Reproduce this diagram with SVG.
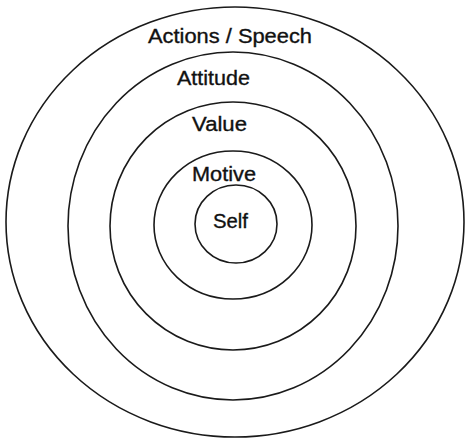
<svg xmlns="http://www.w3.org/2000/svg" width="466" height="439" viewBox="0 0 466 439">
  <style>
    .ring { fill: none; stroke: #1a1a1a; stroke-width: 1.6; }
    .lbl { font-family: "Liberation Sans", Arial, sans-serif; font-size: 20.5px; fill: #111; stroke: #111; stroke-width: 0.35; }
  </style>
  <rect width="466" height="439" fill="#ffffff"/>
  <g id="actions-speech">
    <ellipse class="ring" cx="235" cy="222" rx="229" ry="215"/>
    <text class="lbl" x="148" y="43" textLength="164" lengthAdjust="spacingAndGlyphs">Actions / Speech</text>
  </g>
  <g id="attitude">
    <ellipse class="ring" cx="233" cy="226" rx="165" ry="174"/>
    <text class="lbl" x="177" y="85" textLength="73" lengthAdjust="spacingAndGlyphs">Attitude</text>
  </g>
  <g id="value">
    <ellipse class="ring" cx="233" cy="226" rx="123" ry="124"/>
    <text class="lbl" x="192" y="131" textLength="55" lengthAdjust="spacingAndGlyphs">Value</text>
  </g>
  <g id="motive">
    <ellipse class="ring" cx="233" cy="225" rx="79" ry="74"/>
    <text class="lbl" x="192" y="181" textLength="64" lengthAdjust="spacingAndGlyphs">Motive</text>
  </g>
  <g id="self">
    <ellipse class="ring" cx="236" cy="224" rx="41" ry="39"/>
    <text class="lbl" x="213" y="228" textLength="35" lengthAdjust="spacingAndGlyphs">Self</text>
  </g>
</svg>
